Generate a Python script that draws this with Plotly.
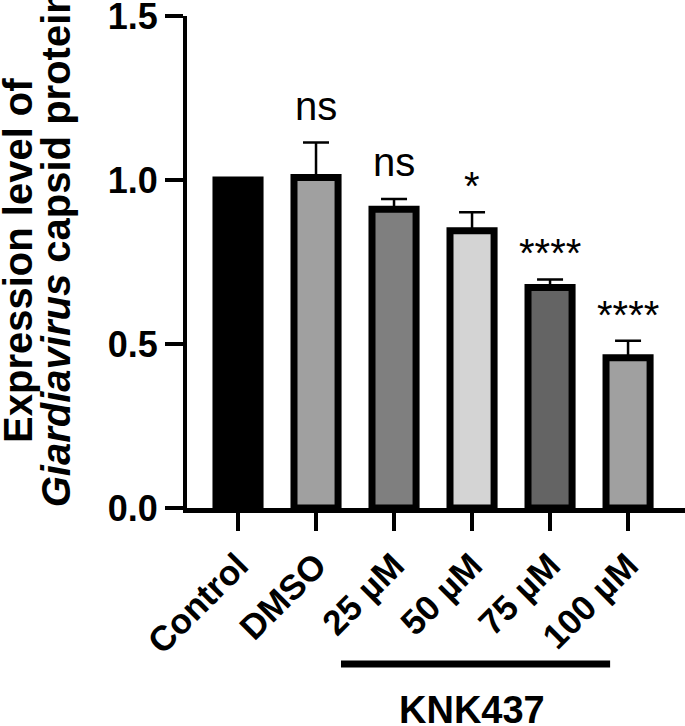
import plotly.graph_objects as go

categories = ["Control", "DMSO", "25 µM", "50 µM", "75 µM", "100 µM"]
values = [1.0, 1.008, 0.911, 0.845, 0.672, 0.458]
errors = [0.0, 0.106, 0.031, 0.057, 0.025, 0.052]
significance = ["", "ns", "ns", "*", "****", "****"]
bar_colors = ["#000000", "#a0a0a0", "#7f7f7f", "#d4d4d4", "#646464", "#a0a0a0"]
y_tickvals = [0.0, 0.5, 1.0, 1.5]
y_ticktext = ["0.0", "0.5", "1.0", "1.5"]
group_label = "KNK437"
group_members = ["25 µM", "50 µM", "75 µM", "100 µM"]

FONT = "Liberation Sans, Arial, sans-serif"
xs = list(range(len(categories)))

fig = go.Figure()
fig.add_trace(go.Bar(
    x=xs, y=values, width=0.565,
    marker=dict(color=bar_colors, line=dict(color="black", width=7)),
    error_y=dict(type="data", array=errors, arrayminus=[0] * len(errors),
                 symmetric=False, color="black", thickness=2.5, width=13),
    showlegend=False, hoverinfo="skip",
))

for i, s in enumerate(significance):
    if not s:
        continue
    is_star = s.startswith("*")
    fig.add_annotation(
        x=i, y=values[i] + errors[i], xref="x", yref="y",
        text=s, showarrow=False, xanchor="center", yanchor="bottom",
        yshift=(2 if is_star else 13),
        font=dict(family=FONT, size=40, color="black"),
    )

# y-axis title (two lines)
fig.add_annotation(
    x=-0.3395, y=0.504, xref="paper", yref="paper", xanchor="center", yanchor="middle",
    text="<b>Expression level of</b>", textangle=-90, showarrow=False,
    font=dict(family=FONT, size=40, color="black"),
)
fig.add_annotation(
    x=-0.263, y=0.528, xref="paper", yref="paper", xanchor="center", yanchor="middle",
    text="<b><i>Giardiavirus</i> capsid protein</b>", textangle=-90, showarrow=False,
    font=dict(family=FONT, size=40, color="black"),
)

# group bracket line and label
g0 = categories.index(group_members[0])
g1 = categories.index(group_members[-1])
fig.add_shape(type="line", xref="x", yref="paper",
              x0=g0 - 0.68, x1=g1 - 0.23, y0=-0.317, y1=-0.317,
              line=dict(color="black", width=7))
fig.add_annotation(
    x=(g0 + g1) / 2 - 0.5, y=-0.41, xref="x", yref="paper",
    text="<b>" + group_label + "</b>", showarrow=False,
    xanchor="center", yanchor="middle",
    font=dict(family=FONT, size=38, color="black"),
)

fig.update_layout(
    width=685, height=726,
    margin=dict(l=187, r=0, t=16, b=218),
    paper_bgcolor="white", plot_bgcolor="white",
    bargap=0.3,
)
fig.update_xaxes(
    range=[-0.654, 5.73], tickmode="array", tickvals=xs, ticktext=categories,
    tickangle=-45, ticks="outside", ticklen=18, tickwidth=4, tickcolor="black",
    showline=True, linecolor="black", linewidth=5, showgrid=False, zeroline=False,
    tickfont=dict(family=FONT, size=35, color="black", weight="bold"),
    automargin=False, ticklabeloverflow="allow",
)
fig.update_yaxes(
    range=[0, 1.5], tickmode="array", tickvals=y_tickvals, ticktext=y_ticktext,
    ticks="outside", ticklen=18, tickwidth=4, tickcolor="black",
    showline=True, linecolor="black", linewidth=4, showgrid=False, zeroline=False,
    tickfont=dict(family=FONT, size=36, color="black", weight="bold"),
    automargin=False, ticklabeloverflow="allow",
)

fig.write_html(
    "out.html",
    config={"displayModeBar": False, "staticPlot": True},
    post_script="document.body.style.margin='0';document.body.style.padding='0';"
                "document.body.style.overflow='hidden';",
)
